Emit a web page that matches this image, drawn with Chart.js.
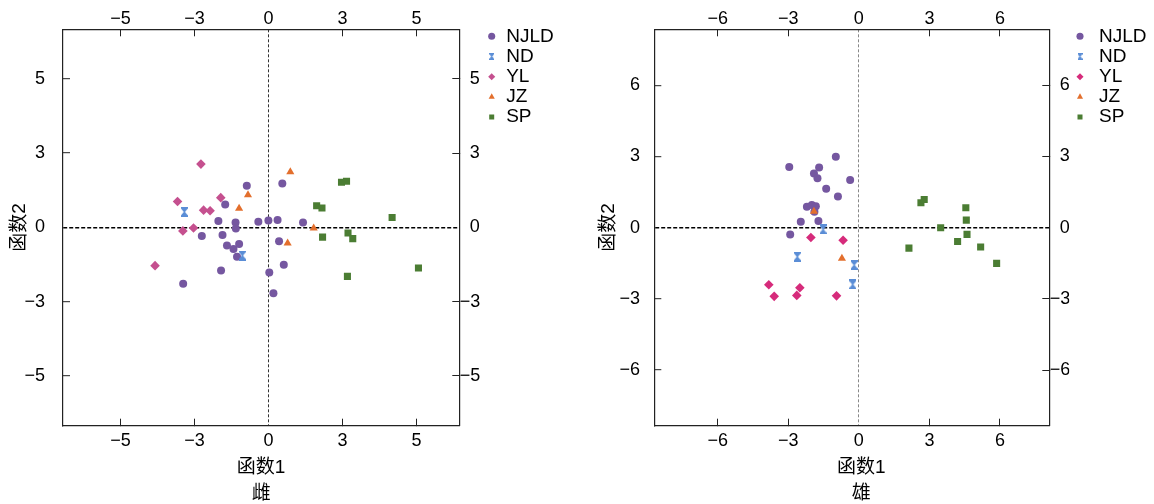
<!DOCTYPE html>
<html><head><meta charset="utf-8">
<script src="https://cdn.jsdelivr.net/npm/chart.js@4/dist/chart.umd.min.js"></script>
<style>
html,body{margin:0;padding:0;background:#fff;overflow:hidden;}
#wrap{position:relative;width:1154px;height:504px;overflow:hidden;}
canvas{position:absolute;top:0;}
</style></head><body>
<div id="wrap">
<canvas id="c1" width="620" height="504" style="left:0;width:620px;height:504px"></canvas>
<canvas id="c2" width="620" height="504" style="left:577px;width:620px;height:504px"></canvas>
</div>
<script>
// ---------------- data ----------------
const groupNames = ['NJLD', 'ND', 'YL', 'JZ', 'SP'];
const xTitle = '函数1';
const yTitle = '函数2';
const captions = ['雌', '雄'];

// female (雌)
const fNJLD = [[-0.73,1.40],[0.47,1.48],[-1.46,0.77],[-1.69,0.21],[-1.11,0.16],[-1.10,-0.04],[-0.34,0.19],[0.00,0.23],[0.31,0.25],[1.17,0.16],[-2.25,-0.29],[-1.55,-0.26],[-1.40,-0.61],[-1.18,-0.73],[-0.99,-0.56],[-1.06,-0.99],[0.36,-0.47],[0.52,-1.26],[0.03,-1.52],[0.17,-2.22],[-1.60,-1.45],[-2.88,-1.90]];
const fND = [[-2.84,0.52],[-0.88,-0.95]];
const fYL = [[-2.28,2.13],[-3.07,0.87],[-1.61,1.00],[-2.19,0.58],[-1.97,0.56],[-2.89,-0.12],[-2.53,-0.02],[-3.83,-1.29]];
const fJZ = [[0.74,1.87],[-0.69,1.09],[-0.99,0.64],[1.53,-0.03],[0.65,-0.53]];
const fSP = [[2.47,1.52],[2.64,1.55],[1.63,0.73],[1.81,0.65],[4.18,0.33],[1.83,-0.33],[2.69,-0.19],[2.85,-0.38],[5.07,-1.37],[2.67,-1.65]];
const fTicks = [-5, -2.5, 0, 2.5, 5];
const fTickLabels = ['−5', '−3', '0', '3', '5'];
const fXRange = [-6.94, 6.45];
const fYRange = [-6.68, 6.67];

// male (雄)
const mNJLD = [[-0.98,2.99],[-2.96,2.56],[-1.69,2.54],[-1.91,2.28],[-1.76,2.09],[-0.37,2.01],[-1.39,1.64],[-0.89,1.32],[-2.21,0.88],[-2.00,0.96],[-1.83,0.91],[-1.89,0.67],[-2.47,0.25],[-1.72,0.28],[-2.92,-0.29]];
const mND = [[-1.52,-0.07],[-2.62,-1.22],[-0.20,-1.57],[-0.26,-2.39]];
const mYL = [[-2.04,-0.41],[-0.67,-0.53],[-3.83,-2.40],[-3.60,-2.89],[-2.51,-2.53],[-2.64,-2.85],[-0.95,-2.87]];
const mJZ = [[-1.91,0.69],[-0.72,-1.29]];
const mSP = [[2.64,1.05],[2.78,1.19],[4.55,0.84],[4.57,0.32],[3.48,0.00],[4.60,-0.28],[4.20,-0.58],[2.13,-0.86],[5.18,-0.81],[5.86,-1.50]];
const mTicks = [-6, -3, 0, 3, 6];
const mTickLabels = ['−6', '−3', '0', '3', '6'];
const mXRange = [-8.7, 8.1];
const mYRange = [-8.34, 8.36];

// ---------------- style ----------------
const FONT = '"Liberation Sans", Arial, "Noto Sans CJK SC", sans-serif';
Chart.defaults.font.family = FONT;
Chart.defaults.color = '#000';

const colNJLD = '#7557a0', colND = '#5a8dd6', colJZ = '#e36f2d', colSP = '#4b7d33';

function hourglass(w, h, color) {
  const c = document.createElement('canvas');
  c.width = w; c.height = h;
  const g = c.getContext('2d');
  g.fillStyle = color;
  g.beginPath();
  g.moveTo(0, 0); g.lineTo(w, 0); g.lineTo(w, h * 0.16);
  g.lineTo(w / 2 + 0.6, h / 2); g.lineTo(w, h * 0.84); g.lineTo(w, h);
  g.lineTo(0, h); g.lineTo(0, h * 0.84); g.lineTo(w / 2 - 0.6, h / 2);
  g.lineTo(0, h * 0.16); g.closePath(); g.fill();
  return c;
}
const hgBig = hourglass(7, 10, colND);
const hgSmall = hourglass(5, 7, colND);

const W = 620, H = 504;
const LEGEND_FONT = 19, LEGEND_PAD = 1.2, LEGEND_FIRST = 36.3, TICK = -7;

// natural legend width (so the legend is never clipped)
const mctx = document.createElement('canvas').getContext('2d');
mctx.font = LEGEND_FONT + 'px ' + FONT;
const legendTextW = Math.max(...groupNames.map(n => mctx.measureText(n).width));

function zeroPad(s) { s.paddingTop = 0; s.paddingBottom = 0; s.paddingLeft = 0; s.paddingRight = 0; }

function buildChart(id, P) {
  const styles = ['circle', hgBig, 'rectRot', 'triangle', 'rect'];
  const radii = [4, 5, 4.8, 4.7, 5];
  const datasets = groupNames.map((name, i) => ({
    label: name,
    data: P.series[i].map(p => ({ x: p[0], y: p[1] })),
    pointStyle: styles[i],
    pointRadius: radii[i],
    pointHoverRadius: radii[i],
    backgroundColor: P.colors[i],
    borderColor: P.colors[i],
    borderWidth: 0,
    showLine: false,
    order: 5 - i
  }));
  const lab = (v) => P.labels[P.ticks.indexOf(v)];
  const setTicks = (s) => { s.ticks = P.ticks.map(v => ({ value: v })); };
  const tickCol = (c) => (c.tick && c.tick.value === 0) ? 'rgba(0,0,0,0)' : '#222';
  const border = { display: true, color: '#222', width: 1.2 };
  const tickFont = { size: 18 };
  const baseLegendGen = Chart.defaults.plugins.legend.labels.generateLabels;
  const legendW = LEGEND_PAD + P.boxW + LEGEND_FONT / 2 + legendTextW + 10;
  const titleSpace = LEGEND_FIRST - LEGEND_PAD - LEGEND_FONT / 2;

  return new Chart(document.getElementById(id), {
    type: 'scatter',
    data: { datasets },
    options: {
      responsive: false,
      animation: false,
      events: [],
      layout: { padding: { top: 0, left: 0, bottom: 0, right: W - legendW - P.legendLeft } },
      plugins: {
        tooltip: { enabled: false },
        legend: {
          position: 'right', align: 'start', maxWidth: 400,
          title: { display: true, text: ' ', font: { size: 10, lineHeight: 1.2 }, padding: { top: 0, bottom: titleSpace - 12 } },
          labels: {
            usePointStyle: true, boxWidth: P.boxW, boxHeight: 5, padding: LEGEND_PAD,
            font: { size: LEGEND_FONT }, color: '#000',
            generateLabels: (chart) => {
              const items = baseLegendGen(chart);
              items.forEach(it => { if (groupNames[it.datasetIndex] === 'ND') it.pointStyle = hgSmall; });
              return items;
            },
            sort: (a, b) => a.datasetIndex - b.datasetIndex
          }
        }
      },
      scales: {
        x: {
          type: 'linear', position: 'bottom', min: P.xRange[0], max: P.xRange[1],
          afterBuildTicks: setTicks,
          afterFit: (s) => { s.height = H - P.bottom; zeroPad(s); },
          ticks: { padding: 11.5, font: tickFont, color: '#000', callback: lab, autoSkip: false, maxRotation: 0 },
          grid: {
            drawOnChartArea: true, drawTicks: true, tickLength: TICK, tickWidth: 1, tickColor: tickCol,
            lineWidth: 1, color: (c) => (c.tick && c.tick.value === 0) ? P.vColor : 'rgba(0,0,0,0)'
          },
          border: Object.assign({ dash: [3, 2] }, border),
          title: {
            display: true, text: [P.shift + xTitle, P.shift + P.caption], color: '#000',
            font: { size: 19, lineHeight: '26px' }, padding: { top: 0, bottom: -3 }
          }
        },
        x2: {
          type: 'linear', position: 'top', min: P.xRange[0], max: P.xRange[1],
          afterBuildTicks: setTicks,
          afterFit: (s) => { s.height = P.top; zeroPad(s); },
          ticks: { padding: 6.8, font: tickFont, color: '#000', callback: lab, autoSkip: false, maxRotation: 0 },
          grid: { drawOnChartArea: false, drawTicks: true, tickLength: TICK, tickWidth: 1, tickColor: tickCol },
          border: border
        },
        y: {
          type: 'linear', position: 'left', min: P.yRange[0], max: P.yRange[1],
          afterBuildTicks: setTicks,
          afterFit: (s) => { s.width = P.areaL; zeroPad(s); },
          ticks: { padding: P.yTickPad, font: tickFont, color: '#000', callback: lab, autoSkip: false },
          grid: {
            drawOnChartArea: true, drawTicks: true, tickLength: TICK, tickWidth: 1, tickColor: tickCol,
            lineWidth: 1.4, color: (c) => (c.tick && c.tick.value === 0) ? '#000' : 'rgba(0,0,0,0)'
          },
          border: Object.assign({ dash: [4, 2] }, border),
          title: {
            display: true, text: yTitle, color: '#000',
            font: { size: 19 }, padding: { top: P.yTitlePad, bottom: 0 }
          }
        },
        y2: {
          type: 'linear', position: 'right', min: P.yRange[0], max: P.yRange[1],
          afterBuildTicks: setTicks,
          afterFit: (s) => { s.width = P.legendLeft - P.areaR; zeroPad(s); },
          ticks: {
            padding: 7.5, font: tickFont, color: '#000', autoSkip: false,
            callback: (v) => (v >= 0 ? '\u2007' : '') + lab(v)
          },
          grid: { drawOnChartArea: false, drawTicks: true, tickLength: TICK, tickWidth: 1, tickColor: tickCol },
          border: border
        }
      }
    }
  });
}

buildChart('c1', {
  series: [fNJLD, fND, fYL, fJZ, fSP],
  colors: [colNJLD, colND, '#c5508f', colJZ, colSP],
  ticks: fTicks, labels: fTickLabels, xRange: fXRange, yRange: fYRange,
  caption: captions[0], shift: '',
  areaL: 63, areaR: 459.3, top: 29.3, bottom: 425.7,
  legendLeft: 485.5, boxW: 10, yTitlePad: 8.6, yTickPad: 25, vColor: '#333'
});
buildChart('c2', {
  series: [mNJLD, mND, mYL, mJZ, mSP],
  colors: [colNJLD, colND, '#d62b7b', colJZ, colSP],
  ticks: mTicks, labels: mTickLabels, xRange: mXRange, yRange: mYRange,
  caption: captions[1], shift: '\u2002\u2002',
  areaL: 77.3, areaR: 472.3, top: 29.3, bottom: 425.7,
  legendLeft: 492.3, boxW: 19, yTitlePad: 20.6, yTickPad: 21.3, vColor: '#888'
});
</script>
</body></html>
